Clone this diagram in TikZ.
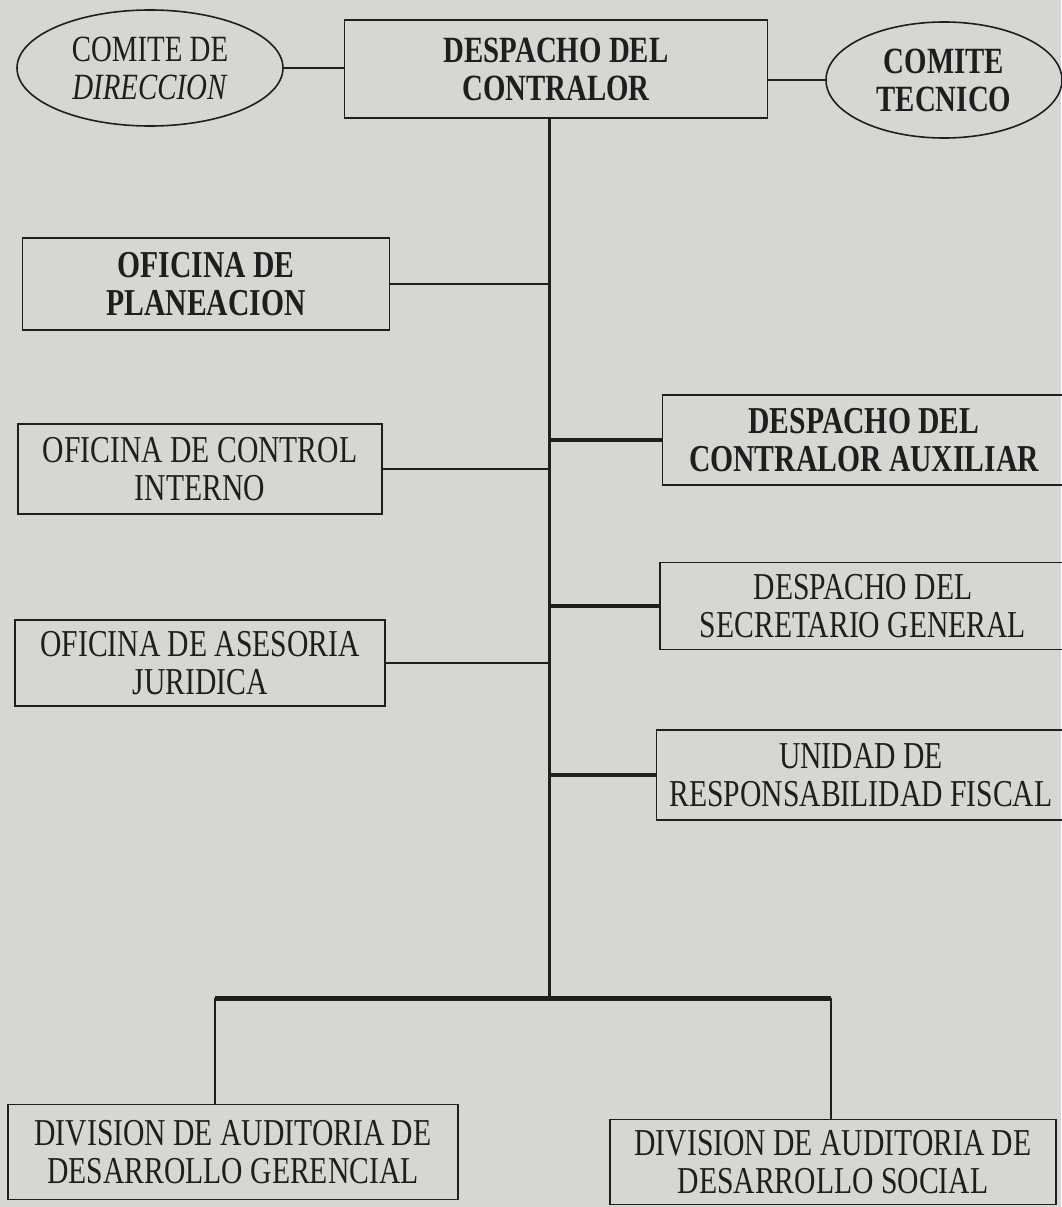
\documentclass[tikz,border=0pt]{standalone}
\usepackage{fontspec}
\setmainfont[FakeStretch=0.78]{Liberation Serif}
\usetikzlibrary{shapes.geometric}
\definecolor{paper}{RGB}{214,214,211}
\definecolor{ink}{RGB}{30,30,30}
\tikzset{
  box/.style={draw=ink, line width=1.6pt, rectangle, align=center, inner sep=0pt,
    font=\fontsize{38}{38}\selectfont, text=ink},
  oval/.style={draw=ink, line width=1.6pt, ellipse, align=center, inner sep=0pt,
    font=\fontsize{37}{38}\selectfont, text=ink},
  thin/.style={draw=ink, line width=1.6pt},
  thick/.style={draw=ink, line width=4pt},
  trunkline/.style={draw=ink, line width=3pt},
}
\begin{document}
\begin{tikzpicture}[x=1pt,y=-1pt]
\fill[paper] (0,0) rectangle (1061,1207);
\useasboundingbox (0,0) rectangle (1061,1207);

% top row
\node[oval, minimum width=266pt, minimum height=116pt] (cd) at (150,68) {COMITE DE\\\textit{DIRECCION}};
\node[box, minimum width=423pt, minimum height=98pt, font=\fontsize{37}{38}\selectfont\bfseries] (dc) at (556,69) {DESPACHO DEL\\CONTRALOR};
\node[oval, minimum width=236pt, minimum height=116pt, font=\fontsize{37}{38}\selectfont\bfseries] (ct) at (944,80) {COMITE\\TECNICO};

% left offices
\node[box, minimum width=367pt, minimum height=92pt, font=\fontsize{38}{38}\selectfont\bfseries] (pl) at (206,284) {OFICINA DE\\PLANEACION};
\node[box, minimum width=364pt, minimum height=90pt] (ci) at (200,469) {OFICINA DE CONTROL\\INTERNO};
\node[box, minimum width=370pt, minimum height=86pt] (aj) at (200,663) {OFICINA DE ASESORIA\\JURIDICA};

% right offices
\node[box, minimum width=403pt, minimum height=90pt, font=\fontsize{38}{38}\selectfont\bfseries] (ax) at (864,440) {DESPACHO DEL\\CONTRALOR AUXILIAR};
\node[box, minimum width=406pt, minimum height=87pt] (sg) at (863,606) {DESPACHO DEL\\SECRETARIO GENERAL};
\node[box, minimum width=409pt, minimum height=90pt] (rf) at (861,775) {UNIDAD DE\\RESPONSABILIDAD FISCAL};

% divisions
\node[box, minimum width=450pt, minimum height=95pt] (dg) at (233,1152) {DIVISION DE AUDITORIA DE\\DESARROLLO GERENCIAL};
\node[box, minimum width=446pt, minimum height=85pt] (ds) at (833,1162) {DIVISION DE AUDITORIA DE\\DESARROLLO SOCIAL};

% trunk
\coordinate (tk) at (549,998);
\coordinate (bl) at (215,998);
\coordinate (br) at (831,998);
\draw[trunkline] (dc.south -| tk) -- (tk);

% top connectors
\draw[thin] (cd.east) -- (cd.east -| dc.west);
\draw[thin] (ct.west) -- (ct.west -| dc.east);

% left branches
\draw[thin] (pl.east) -- (pl.east -| tk);
\draw[thin] (ci.east) -- (ci.east -| tk);
\draw[thin] (aj.east) -- (aj.east -| tk);

% right branches
\draw[thick] (ax.west -| tk) -- (ax.west);
\draw[thick] (sg.west -| tk) -- (sg.west);
\draw[thick] (rf.west -| tk) -- (rf.west);

% bottom bar
\draw[thick, line width=5pt] (bl) -- (br);
\draw[thin] (bl) -- (bl |- dg.north);
\draw[thin] (br) -- (br |- ds.north);
\end{tikzpicture}
\end{document}
